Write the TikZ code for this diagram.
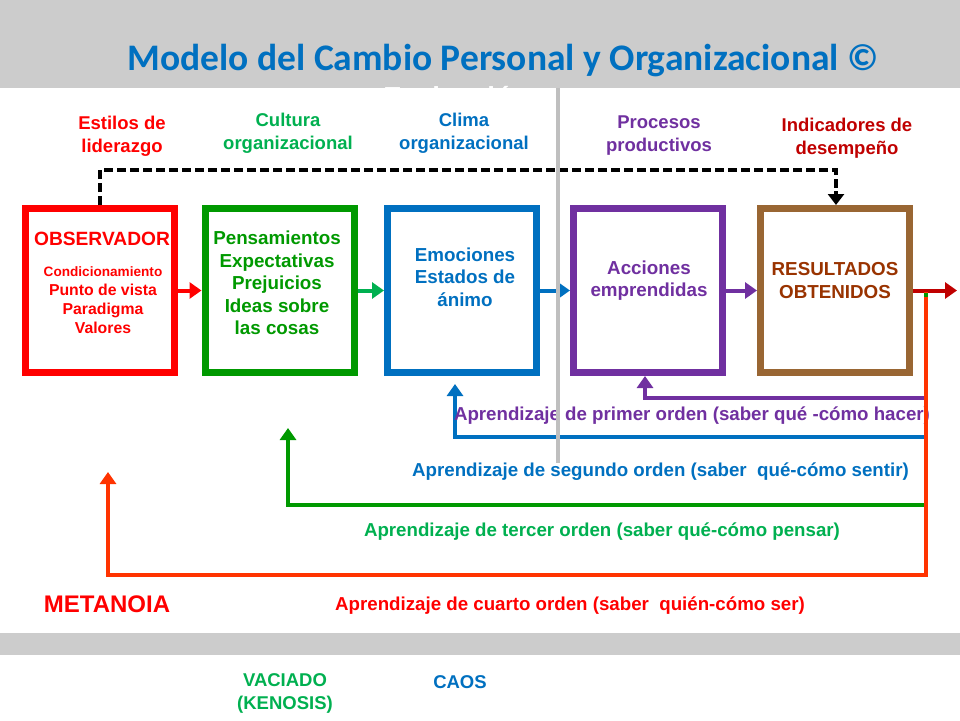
\documentclass[tikz,border=0pt]{standalone}
\usepackage{fontspec}
\setmainfont{Liberation Sans}
\newfontfamily\titlefont{Carlito}
\usetikzlibrary{arrows.meta}
\definecolor{bgGray}{RGB}{204,204,204}
\definecolor{cRed}{HTML}{FF0000}
\definecolor{cGreen}{HTML}{009900}
\definecolor{cLGreen}{HTML}{00B050}
\definecolor{cBlue}{HTML}{0070C0}
\definecolor{cPurple}{HTML}{7030A0}
\definecolor{cBrown}{HTML}{996633}
\definecolor{cBrownText}{HTML}{993300}
\definecolor{cDarkRed}{HTML}{C00000}
\definecolor{cOrange}{HTML}{FF3300}
\definecolor{cLine}{RGB}{191,191,191}
\begin{document}
\begin{tikzpicture}[x=1pt,y=-1pt,
  box/.style={draw, line width=7pt, minimum width=149pt, minimum height=164pt, inner sep=0pt},
  lbl/.style={font=\bfseries\fontsize{18.5}{23}\selectfont, align=center, inner sep=0pt},
  boxtxt/.style={font=\bfseries\fontsize{18.8}{22.5}\selectfont, align=center, inner sep=0pt},
  learn/.style={font=\bfseries\fontsize{18.7}{22}\selectfont, inner sep=0pt},
  fwd/.style={line width=4pt, -{Triangle[length=12pt,width=16pt]}},
  back/.style={line width=4pt, line join=miter, -{Triangle[length=12pt,width=16pt]}},
]
\useasboundingbox (0,0) rectangle (960,720);
\fill[bgGray] (0,0) rectangle (960,720);
\node[text=white, font=\bfseries\fontsize{27.5}{30}\selectfont, anchor=base, inner sep=0pt] (evalu) at (456,106) {Evaluación};
\fill[white] (0,88) rectangle (960,633);
\fill[white] (0,655) rectangle (960,720);

\node[font=\titlefont\bfseries\fontsize{37.5}{40}\selectfont, text=cBlue, anchor=base, inner sep=0pt] (title) at (503,70) {Modelo del Cambio Personal y Organizacional ©};

% top labels
\node[lbl, text=cRed] (estilos) at (122,136) {Estilos de\\liderazgo};
\node[lbl, text=cLGreen] (cultura) at (288,133) {Cultura\\organizacional};
\node[lbl, text=cBlue] (clima) at (464,133) {Clima\\organizacional};
\node[lbl, text=cPurple] (procesos) at (659,136) {Procesos\\productivos};
\node[lbl, text=cDarkRed] (indic) at (847,138) {Indicadores de\\desempeño};

% boxes
\node[box, draw=cRed] (obs) at (100,290.5) {};
\node[box, draw=cGreen] (pen) at (279.5,290.5) {};
\node[box, draw=cBlue] (emo) at (462,290.5) {};
\node[box, draw=cPurple] (acc) at (648,290.5) {};
\node[box, draw=cBrown] (res) at (835,290.5) {};

% box texts
\node[font=\bfseries\fontsize{19.2}{22}\selectfont, text=cRed, inner sep=0pt] (obsT) at (102,239) {OBSERVADOR};
\node[font=\bfseries\fontsize{15.8}{19}\selectfont, text=cRed, align=center, inner sep=0pt] (obsS) at (103,300.5) {{\fontsize{13.6}{19}\selectfont Condicionamiento}\\Punto de vista\\Paradigma\\Valores};
\node[boxtxt, text=cGreen] (penT) at (277,283) {Pensamientos\\Expectativas\\Prejuicios\\Ideas sobre\\las cosas};
\node[boxtxt, text=cBlue] (emoT) at (465,277) {Emociones\\Estados de\\ánimo};
\node[boxtxt, text=cPurple] (accT) at (649,280.5) {Acciones\\emprendidas};
\node[boxtxt, text=cBrownText] (resT) at (835,280.5) {RESULTADOS\\OBTENIDOS};

% forward arrows
\coordinate (outR) at (957,290.5);
\draw[fwd, cRed] (obs.east) -- (pen.west);
\draw[fwd, cLGreen] (pen.east) -- (emo.west);
\draw[fwd, cBlue] (emo.east) -- (acc.west);
\draw[fwd, cPurple] (acc.east) -- (res.west);
\draw[fwd, cDarkRed] (res.east) -- (outR);

% dashed feedback on top
\coordinate (dashL) at (100,170);
\coordinate (dashR) at (836,170);
\coordinate (dashEnd) at (836,191);
\draw[black, line width=4pt, dash pattern=on 9pt off 4pt] (obs.north) -- (dashL) -- (dashR) -- (dashEnd);
\draw[black, line width=4pt, -{Triangle[length=11pt,width=16pt]}] (dashEnd) -- (res.north -| dashEnd);

% learning loops
\coordinate (p1) at (926,398);
\coordinate (p2) at (926,437);
\coordinate (p3) at (926,505);
\coordinate (p4) at (926,575);
\coordinate (loopTop) at (926,292);
\coordinate (accIn) at (645,376);
\coordinate (emoIn) at (455,384);
\coordinate (penIn) at (288,428);
\coordinate (obsIn) at (108,472);
\draw[back, cPurple] (p1) -| (accIn);
\draw[back, cBlue] (p2) -| (emoIn);
\draw[back, cGreen] (p3) -| (penIn);
\node[learn, text=cPurple] (l1) at (692,416) {Aprendizaje de primer orden (saber qué -cómo hacer)};
\node[learn, text=cBlue] (l2) at (660.5,472) {Aprendizaje de segundo orden (saber \ qué-cómo sentir)};
\node[learn, text=cLGreen] (l3) at (602,532) {Aprendizaje de tercer orden (saber qué-cómo pensar)};
\node[learn, text=cRed] (l4) at (570,606) {Aprendizaje de cuarto orden (saber \ quién-cómo ser)};
\draw[back, cOrange] (loopTop) -- (p4) -| (obsIn);
\fill[cGreen] (924,292.5) rectangle (928,297);

\node[font=\bfseries\fontsize{24}{26}\selectfont, text=cRed, inner sep=0pt] (meta) at (107,604) {METANOIA};
\node[lbl, text=cLGreen] (vaciado) at (285,693) {VACIADO\\(KENOSIS)};
\node[lbl, text=cBlue] (caos) at (460,682) {CAOS};

% gray divider on top
\draw[cLine, line width=4pt] (558,88) -- (558,463);
\end{tikzpicture}
\end{document}
